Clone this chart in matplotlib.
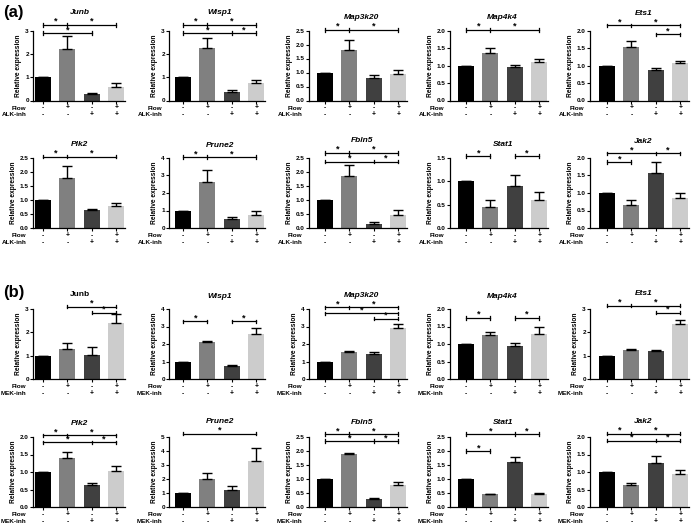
import matplotlib
matplotlib.use("Agg")
import matplotlib.pyplot as plt
import numpy as np

plt.rcParams["font.family"] = ["Liberation Sans", "DejaVu Sans"]
plt.rcParams["font.weight"] = "bold"

flow_signs = ["-", "+", "-", "+"]
inh_signs = ["-", "-", "+", "+"]
bar_colors = ["#000000", "#808080", "#404040", "#cccccc"]

# panel (a): ALK inhibitor
a_genes = ["Junb", "Wisp1", "Map3k20", "Map4k4", "Ets1",
           "Plk2", "Prune2", "Fbln5", "Stat1", "Jak2"]
a_means = [[1.0, 2.2, 0.28, 0.58], [1.0, 2.26, 0.35, 0.77], [1.0, 1.82, 0.79, 0.93],
           [1.0, 1.35, 0.97, 1.1], [1.0, 1.53, 0.88, 1.07],
           [1.0, 1.77, 0.65, 0.8], [1.0, 2.6, 0.52, 0.75], [1.0, 1.85, 0.15, 0.48],
           [1.0, 0.46, 0.89, 0.59], [1.0, 0.66, 1.58, 0.87]]
a_errs = [[0, 0.57, 0.03, 0.15], [0, 0.4, 0.08, 0.12], [0, 0.35, 0.12, 0.17],
          [0, 0.14, 0.04, 0.1], [0, 0.17, 0.05, 0.07],
          [0, 0.43, 0.03, 0.08], [0, 0.7, 0.12, 0.23], [0, 0.4, 0.05, 0.15],
          [0, 0.14, 0.24, 0.19], [0, 0.13, 0.31, 0.14]]
a_ymax = [3, 3, 2.5, 2.0, 2.0, 2.5, 4, 2.5, 1.5, 2.0]
a_ystep = [1, 1, 0.5, 0.5, 0.5, 0.5, 1, 0.5, 0.5, 0.5]
a_brackets = [[(3.24, [0, 1, 3]), (2.89, [0, 2])],
              [(3.24, [0, 1, 3]), (2.89, [0, 2, 3])],
              [(2.52, [0, 1, 3])],
              [(2.02, [0, 1, 3])],
              [(2.15, [0, 1, 3]), (1.89, [2, 3])],
              [(2.55, [0, 1, 3])],
              [(4.05, [0, 1, 3])],
              [(2.68, [0, 1, 3]), (2.37, [0, 2, 3])],
              [(1.54, [0, 1]), (1.54, [2, 3])],
              [(2.13, [0, 2, 3]), (1.88, [0, 1])]]

# panel (b): MEK inhibitor
b_genes = ["Junb", "Wisp1", "Map3k20", "Map4k4", "Ets1",
           "Plk2", "Prune2", "Fbln5", "Stat1", "Jak2"]
b_means = [[1.0, 1.3, 1.05, 2.4], [1.0, 2.1, 0.72, 2.6], [1.0, 1.55, 1.42, 2.9],
           [1.0, 1.27, 0.95, 1.3], [1.0, 1.25, 1.2, 2.35],
           [1.0, 1.4, 0.63, 1.03], [1.0, 2.0, 1.25, 3.3], [1.0, 1.88, 0.3, 0.78],
           [1.0, 0.45, 1.6, 0.48], [1.0, 0.63, 1.27, 0.95]]
b_errs = [[0, 0.25, 0.32, 0.4], [0, 0.1, 0.1, 0.3], [0, 0.06, 0.1, 0.25],
          [0, 0.08, 0.08, 0.2], [0, 0.03, 0.03, 0.2],
          [0, 0.17, 0.06, 0.15], [0, 0.4, 0.25, 0.9], [0, 0.05, 0.02, 0.1],
          [0, 0.03, 0.2, 0.02], [0, 0.07, 0.2, 0.1]]
b_ymax = [3, 4, 4, 2.0, 3, 2.0, 5, 2.5, 2.5, 2.0]
b_ystep = [1, 1, 1, 0.5, 1, 0.5, 1, 0.5, 0.5, 0.5]
b_brackets = [[(3.1, [1, 3]), (2.85, [2, 3])],
              [(3.3, [0, 1]), (3.3, [2, 3])],
              [(4.1, [0, 1, 3]), (3.75, [0, 3]), (3.45, [2, 3])],
              [(1.75, [0, 1]), (1.75, [2, 3])],
              [(3.15, [0, 1, 3]), (2.85, [2, 3])],
              [(2.05, [0, 1, 3]), (1.85, [0, 2, 3])],
              [(5.25, [0, 3])],
              [(2.6, [0, 1, 3]), (2.35, [0, 2, 3])],
              [(2.6, [0, 2, 3]), (2.0, [0, 1])],
              [(2.1, [0, 1, 3]), (1.9, [0, 2, 3])]]

W, H = 697, 524
col_axis_px = [33, 169, 309, 450, 590]
col_bar1_px = [43, 183, 325, 466, 607]
row_zero_px = [100.5, 228, 379, 507]
spacing = 24.4
ax_h = 70

fig = plt.figure(figsize=(W / 100, H / 100), dpi=100)


def bracket(ax, y, xs, dy):
    ax.plot([xs[0], xs[-1]], [y, y], color="black", lw=0.9, clip_on=False)
    for x in xs:
        ax.plot([x, x], [y - dy, y + dy], color="black", lw=0.9, clip_on=False)
    for x0, x1 in zip(xs[:-1], xs[1:]):
        ax.text((x0 + x1) / 2, y - dy * 0.6, "*", ha="center", va="bottom", fontsize=6.5,
                fontweight="bold", clip_on=False)


def panel(row, col, gene, means, errs, ymax, ystep, brackets, inh_name, italic=True):
    left_units = (col_bar1_px[col] - col_axis_px[col]) / spacing
    x0 = col_axis_px[col]
    width_px = (left_units + 3.35) * spacing
    y0 = H - row_zero_px[row]
    ax = fig.add_axes([x0 / W, y0 / H, width_px / W, ax_h / H])
    x = np.arange(4)
    ax.bar(x, means, width=0.66, color=bar_colors)
    ax.errorbar(x, means, yerr=[np.zeros(4), errs], fmt="none", ecolor="black",
                elinewidth=1.0, capsize=3.6, capthick=1.0)
    ax.set_xlim(-left_units, 3.35)
    ax.set_ylim(0, ymax)
    ticks = np.arange(0, ymax + 1e-9, ystep)
    ax.set_yticks(ticks)
    if ystep < 1:
        ax.set_yticklabels([f"{t:.1f}" for t in ticks])
    else:
        ax.set_yticklabels([f"{t:.0f}" for t in ticks])
    ax.set_xticks(x)
    ax.set_xticklabels([])
    ax.tick_params(axis="both", length=2, width=0.8, labelsize=4.6, pad=1)
    for s in ["top", "right"]:
        ax.spines[s].set_visible(False)
    for s in ["left", "bottom"]:
        ax.spines[s].set_linewidth(0.9)
    ax.set_ylabel("Relative expression", fontsize=4.8, fontweight="bold", labelpad=2)
    dy = ymax * 0.025
    for y, xs in brackets:
        bracket(ax, y, xs, dy)
    top = max(y for y, xs in brackets)
    title_y = max(ymax * 1.18, top + 12 * ymax / ax_h)
    ax.text(1.5, title_y, gene, ha="center", va="center", fontsize=6,
            fontweight="bold", style="italic" if italic else "normal", clip_on=False)
    for i in range(4):
        ax.annotate(flow_signs[i], xy=(i, 0), xycoords="data", xytext=(0, -5.4),
                    textcoords="offset points", ha="center", va="center", fontsize=4.8)
        ax.annotate(inh_signs[i], xy=(i, 0), xycoords="data", xytext=(0, -10.4),
                    textcoords="offset points", ha="center", va="center", fontsize=4.8)
    ax.annotate("Flow", xy=(0, 0), xycoords="axes fraction", xytext=(-4.5, -5.4),
                textcoords="offset points", ha="right", va="center", fontsize=4.6)
    ax.annotate(inh_name, xy=(0, 0), xycoords="axes fraction", xytext=(-4.5, -10.4),
                textcoords="offset points", ha="right", va="center", fontsize=4.6)


for k in range(10):
    r, c = divmod(k, 5)
    panel(r, c, a_genes[k], a_means[k], a_errs[k], a_ymax[k], a_ystep[k],
          a_brackets[k], "ALK-inh")
    panel(r + 2, c, b_genes[k], b_means[k], b_errs[k], b_ymax[k], b_ystep[k],
          b_brackets[k], "MEK-inh", italic=(k != 0))

fig.text(3 / W, 1 - 12 / H, "(a)", fontsize=12, fontweight="bold", va="center")
fig.text(3 / W, 1 - 292 / H, "(b)", fontsize=12, fontweight="bold", va="center")

fig.savefig("out.png", dpi=100)
